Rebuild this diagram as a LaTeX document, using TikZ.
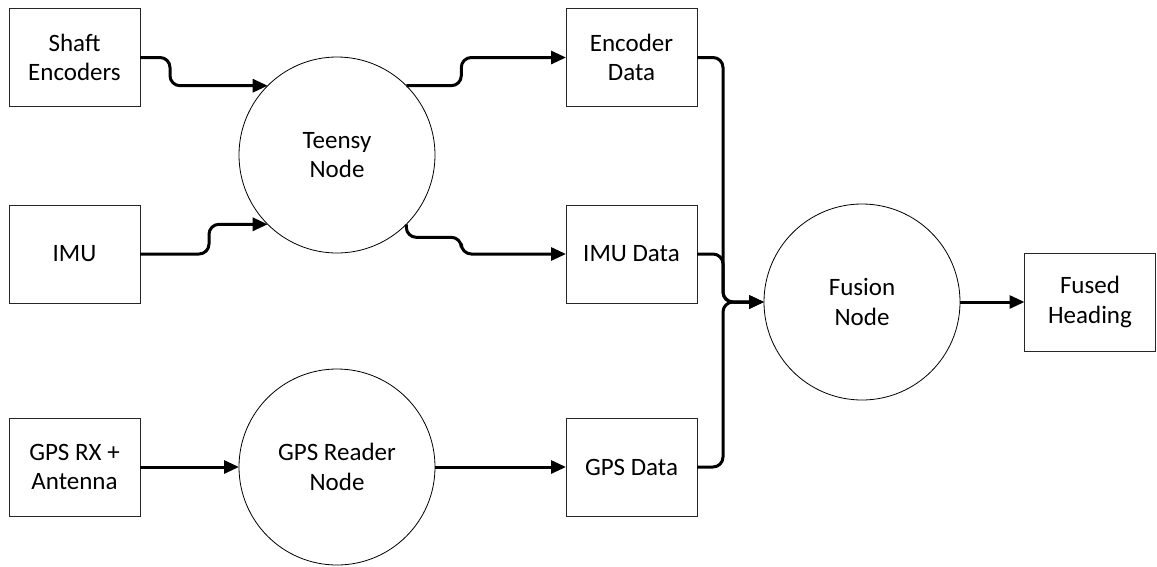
\documentclass[tikz,border=0pt]{standalone}
\usepackage{fontspec}
\setmainfont{Carlito}
\usetikzlibrary{arrows.meta}
\begin{document}
\begin{tikzpicture}[x=1pt,y=-1pt,
  every node/.style={font=\fontsize{25}{29.5}\selectfont, align=center, outer sep=0pt, inner sep=0pt},
  box/.style={draw=black!85, line width=1pt, minimum width=131pt, minimum height=98pt},
  proc/.style={draw=black, line width=0.8pt, circle, minimum size=196pt},
  conn/.style={line width=3pt, rounded corners=10pt, -{Triangle[length=15pt,width=13pt]}}
]
\useasboundingbox (0,0) rectangle (1157,566);

% inputs
\node[box] (shaft) at (74.5,57.5) {Shaft\\Encoders};
\node[box] (imu) at (74.5,254) {IMU};
\node[box] (gpsrx) at (74.5,467) {GPS RX +\\Antenna};

% processing nodes
\node[proc] (teensy) at (337,155) {Teensy\\Node};
\node[proc] (gpsreader) at (337,467) {GPS Reader\\Node};
\node[proc] (fusion) at (862,302) {Fusion\\Node};

% data products
\node[box] (encdata) at (631.5,57.5) {Encoder\\Data};
\node[box] (imudata) at (631.5,254) {IMU Data};
\node[box] (gpsdata) at (631.5,467) {GPS Data};
\node[box] (fused) at (1090,302) {Fused\\Heading};

% sensors into the Teensy
\draw[conn] (shaft.east) -- ++(30,0) |- (teensy.135);
\draw[conn] (imu.east) -- ++(69,0) |- (teensy.-135);

% Teensy outputs
\draw[conn] (teensy.45) -- ++(55,0) |- (encdata.west);
\draw[conn] (teensy.-45) |- ++(55,13) |- (imudata.west);

% GPS chain
\draw[conn] (gpsrx.east) -- (gpsreader.west);
\draw[conn] (gpsreader.east) -- (gpsdata.west);

% merge into fusion
\draw[conn] (encdata.east) -- ++(26,0) |- (fusion.west);
\draw[conn] (imudata.east) -- ++(26,0) |- (fusion.west);
\draw[conn] (gpsdata.east) -- ++(26,0) |- (fusion.west);

% fused output
\draw[conn] (fusion.east) -- (fused.west);
\end{tikzpicture}
\end{document}
